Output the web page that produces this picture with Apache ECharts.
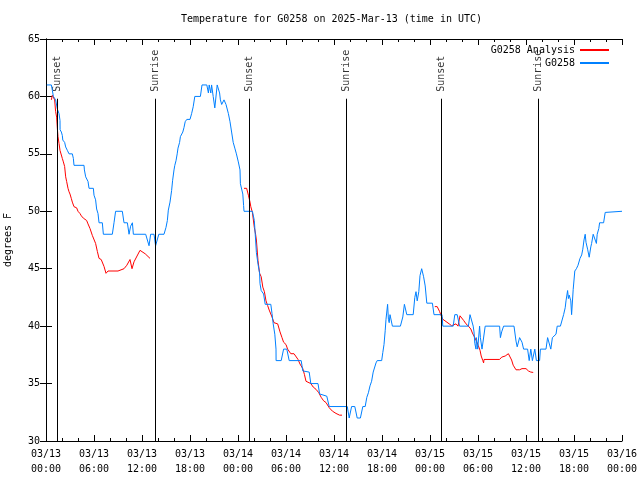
<!DOCTYPE html>
<html><head><meta charset="utf-8">
<script src="https://cdn.jsdelivr.net/npm/echarts@6/dist/echarts.min.js"></script>
<style>html,body{margin:0;padding:0;background:#fff}#c{width:640px;height:480px}</style>
</head><body><div id="c"></div>
<script>
// hours since 2025-03-13 00:00 UTC
const tickLabels = ['03/13\n00:00','03/13\n06:00','03/13\n12:00','03/13\n18:00','03/14\n00:00','03/14\n06:00','03/14\n12:00','03/14\n18:00','03/15\n00:00','03/15\n06:00','03/15\n12:00','03/15\n18:00','03/16\n00:00'];
const sunsetHours = [1.41, 25.42, 49.44];
const sunriseHours = [13.62, 37.58, 61.54];
const obs = [[0.1,61],[0.67,61],[0.8,60.5],[0.92,60],[1.2,59.7],[1.42,58.9],[1.63,58.5],[1.75,57.9],[1.76,57.1],[1.92,56.9],[2.04,56.6],[2.1,56.2],[2.33,56],[2.46,55.6],[2.67,55.3],[2.88,55],[3.29,55],[3.42,54.6],[3.5,54],[4.75,54],[4.8,53.6],[4.96,53],[5.17,53],[5.25,52.6],[5.38,52],[5.92,52],[6.0,51.4],[6.2,51],[6.33,50.2],[6.5,49.8],[6.63,49],[7.04,49],[7.17,48],[8.29,48],[8.5,49],[8.7,50],[9.54,50],[9.75,49],[10.17,49],[10.38,48],[10.58,48.7],[10.8,49],[10.92,48],[12.46,48],[12.88,47],[13.08,48],[13.5,48],[13.7,47],[14.1,48],[14.75,48],[15.0,48.6],[15.17,49.2],[15.29,50.1],[15.5,50.8],[15.7,51.8],[15.83,52.7],[16.0,53.6],[16.1,54],[16.25,54.4],[16.4,55],[16.5,55.5],[16.7,56],[16.8,56.5],[17.1,56.9],[17.25,57.3],[17.4,57.8],[17.6,58],[18.0,58],[18.2,58.5],[18.4,59.1],[18.6,60],[19.3,60],[19.5,61],[20.1,61],[20.3,60.3],[20.4,61],[20.6,60.3],[20.7,61],[20.9,60],[21.1,59],[21.4,61],[21.7,60.3],[21.8,59.7],[21.96,59.3],[22.25,59.7],[22.5,59.3],[22.8,58.5],[23.0,57.8],[23.2,56.9],[23.4,56],[23.6,55.5],[23.8,55],[24.04,54.3],[24.25,53.6],[24.3,52.4],[24.6,51.5],[24.7,50.5],[24.75,50],[25.8,50],[26.04,49.2],[26.2,47.5],[26.3,46.4],[26.5,45.4],[26.7,44.6],[26.75,43.7],[26.9,43.1],[27.2,42.8],[27.4,41.9],[28.1,41.9],[28.25,41.1],[28.4,40.2],[28.6,39.3],[28.75,38],[28.76,37],[29.4,37],[29.7,38],[30.1,38],[30.4,37],[31.9,37],[32.1,36.1],[32.3,36],[32.9,36],[33.1,35],[34.0,35],[34.2,34.1],[35.1,33.9],[35.4,33],[37.66,33],[37.9,32],[38.2,33],[38.6,33],[38.9,32],[39.3,32],[39.6,33],[39.9,33],[40.1,33.8],[40.3,34.2],[40.5,34.8],[40.7,35.2],[40.9,36],[41.25,36.8],[41.4,37],[41.96,37],[42.1,37.7],[42.25,38.4],[42.4,39.6],[42.5,40.6],[42.7,41.9],[42.8,40.6],[42.9,40.3],[43.0,41],[43.2,41],[43.3,40],[44.3,40],[44.6,40.8],[44.8,41.9],[45.1,41],[45.9,41],[46.1,42.5],[46.25,43],[46.4,42.2],[46.6,43],[46.75,44.4],[46.96,45],[47.2,44.3],[47.4,43.5],[47.6,42],[48.3,42],[48.5,41],[49.5,41],[49.6,40],[50.9,40],[51.1,41],[51.4,41],[51.7,40],[52.8,40],[53.0,41],[53.2,41],[53.4,40],[53.5,39.5],[53.6,38.5],[53.75,38],[53.8,39],[53.96,38],[54.2,40],[54.3,39],[54.5,38],[54.7,38],[54.9,40],[56.7,40],[56.8,39],[56.96,39.5],[57.2,40],[58.5,40],[58.75,38.7],[58.9,38.2],[59.2,39],[59.5,38.6],[59.7,38],[60.2,38],[60.4,37],[60.6,38],[60.8,37],[61.1,38],[61.3,37],[61.7,37],[61.8,38],[62.5,38],[62.7,39],[62.9,39],[63.1,38],[63.3,39],[63.75,39.3],[63.9,40],[64.3,40],[64.7,41],[64.9,41.6],[65.0,42.2],[65.2,43.1],[65.3,42.4],[65.4,42.7],[65.6,42.2],[65.7,41],[65.9,43.2],[66.1,44.8],[66.3,45],[66.5,45.3],[66.75,45.9],[66.96,46.2],[67.1,46.7],[67.25,47.5],[67.4,48],[67.5,47.3],[67.7,46.7],[67.9,46],[68.1,46.9],[68.2,47.2],[68.4,48],[68.6,48],[68.8,47.2],[68.9,48],[69.1,48.5],[69.2,49],[69.7,49],[69.9,49.9],[70.1,50],[72,50]];
const anaSeg1 = [[0.67,59.7],[0.79,60.1],[1.0,60.1],[1.08,59.7],[1.2,58.7],[1.33,58.2],[1.42,57.2],[1.5,56.5],[1.63,55.9],[1.75,55.3],[1.92,55.2],[2.04,54.6],[2.17,54.3],[2.33,53.9],[2.46,53],[2.58,52.6],[2.75,52],[2.88,51.7],[3.0,51.5],[3.17,51.1],[3.29,50.8],[3.5,50.4],[3.83,50.3],[4.0,50],[4.25,49.8],[4.42,49.6],[4.67,49.4],[5.08,49.2],[5.25,48.9],[5.5,48.5],[5.79,47.9],[6.0,47.8],[6.2,47.2],[6.42,46.5],[6.63,45.9],[6.9,45.8],[7.25,45.2],[7.5,44.6],[7.75,44.8],[9.0,44.8],[9.75,45],[10.1,45.3],[10.5,45.8],[10.75,45.0],[11.0,45.6],[11.75,46.6],[12.4,46.3],[13.0,45.9]];
const anaSeg2 = [[24.75,52],[25.08,52],[25.3,51.4],[25.5,50.8],[25.6,50.4],[25.8,49.9],[26.04,48.6],[26.2,48.0],[26.3,47.5],[26.5,45.7],[26.7,44.6],[26.9,44.3],[27.1,43.4],[27.3,43],[27.5,42.2],[27.7,41.8],[27.9,41.4],[28.25,40.8],[28.5,40.3],[28.96,40.2],[29.25,39.5],[29.5,39],[29.7,38.6],[30,38.4],[30.2,38],[30.6,37.6],[31.0,37.6],[31.5,37.1],[31.75,36.7],[32.1,36.3],[32.3,35.8],[32.5,35.2],[32.7,35.1],[33.1,35],[33.4,34.7],[33.75,34.5],[34.1,34.2],[34.4,33.8],[34.7,33.5],[35,33.35],[35.4,32.9],[35.8,32.6],[36.25,32.4],[36.7,32.25],[37,32.25]];
const anaSeg3 = [[48.6,41.7],[48.9,41.7],[49.2,41.27],[49.4,40.9],[49.6,40.6],[50.0,40.4],[50.4,40.2],[50.7,40.04],[50.9,40.2],[51.25,40.2],[51.5,40],[51.75,40.9],[52.2,40.5],[52.5,40.2],[52.8,40],[53.1,39.75],[53.3,39.4],[53.6,39],[53.8,38.7],[54.04,38.3],[54.25,37.9],[54.4,37.4],[54.6,37],[54.7,36.8],[54.75,37.1],[56.7,37.1],[56.96,37.3],[57.4,37.4],[57.8,37.6],[58,37.5],[58.2,37.05],[58.4,36.6],[58.75,36.2],[59.2,36.2],[59.5,36.3],[59.75,36.35],[60,36.3],[60.3,36.1],[60.6,36.0],[60.9,35.97]];
const lineTop = 59.8, labelBase = 60.4;

const FONT = 'DejaVu Sans Mono';
const ana = anaSeg1.concat([[18, null]], anaSeg2, [[43, null]], anaSeg3);
const events = [];
sunsetHours.forEach(h => events.push([h, labelBase, 'Sunset']));
sunriseHours.forEach(h => events.push([h, labelBase, 'Sunrise']));
const eventLines = events.map(e => [{coord: [e[0], 30]}, {coord: [e[0], lineTop]}]);

const axisCommon = {
  type: 'value', min: 0, max: 72, interval: 6,
  axisLine: {show: true, lineStyle: {color: '#000', width: 1}},
  axisTick: {show: true, inside: true, length: 6, lineStyle: {color: '#000'}},
  minorTick: {show: true, splitNumber: 3, length: 3, lineStyle: {color: '#000'}},
  splitLine: {show: false}
};
const yCommon = {
  type: 'value', min: 30, max: 65, interval: 5,
  axisLine: {show: true, lineStyle: {color: '#000', width: 1}},
  axisTick: {show: true, inside: true, length: 6, lineStyle: {color: '#000'}},
  splitLine: {show: false}
};

const chart = echarts.init(document.getElementById('c'), null, {renderer: 'canvas'});
chart.setOption({
  animation: false,
  backgroundColor: '#fff',
  title: {text: 'Temperature for G0258 on 2025-Mar-13 (time in UTC)', left: 181, top: 14, padding: 0,
    textStyle: {fontFamily: FONT, fontSize: 10, fontWeight: 'normal', color: '#000'}},
  legend: {
    data: ['G0258 Analysis', 'G0258'], orient: 'vertical', align: 'right', right: 30, top: 44,
    padding: 0, itemGap: 1, itemWidth: 29, itemHeight: 12,
    itemStyle: {opacity: 0},
    textStyle: {fontFamily: FONT, fontSize: 10, color: '#000', lineHeight: 12}
  },
  grid: {left: 46, right: 18, top: 39, bottom: 39, containLabel: false, outerBoundsMode: 'none'},
  xAxis: [
    Object.assign({}, axisCommon, {position: 'bottom',
      axisLabel: {show: true, margin: 6, fontFamily: FONT, fontSize: 10, color: '#000', lineHeight: 15,
        formatter: v => tickLabels[Math.round(v / 6)]}}),
    Object.assign({}, axisCommon, {position: 'top', axisLabel: {show: false}})
  ],
  yAxis: [
    Object.assign({}, yCommon, {position: 'left', name: 'degrees F', nameLocation: 'middle', nameGap: 33,
      nameTextStyle: {fontFamily: FONT, fontSize: 10, color: '#000'},
      axisLabel: {show: true, margin: 6, fontFamily: FONT, fontSize: 10, color: '#000'}}),
    Object.assign({}, yCommon, {position: 'right', axisLabel: {show: false}})
  ],
  series: [
    {name: 'G0258 Analysis', type: 'line', data: ana, symbol: 'none', connectNulls: false,
      lineStyle: {color: '#ff0000', width: 1}, itemStyle: {color: '#ff0000'}},
    {name: 'G0258', type: 'line', data: obs, symbol: 'none',
      lineStyle: {color: '#0080ff', width: 1}, itemStyle: {color: '#0080ff'}},
    {name: 'events', type: 'scatter', data: events, symbolSize: 0, silent: true,
      label: {show: true, formatter: p => p.data[2], rotate: 90, position: [0, 0], align: 'left', verticalAlign: 'middle',
        fontFamily: FONT, fontSize: 10, color: '#000'},
      markLine: {silent: true, symbol: 'none', label: {show: false}, animation: false,
        lineStyle: {color: '#000', width: 1, type: 'solid'}, emphasis: {disabled: true}, data: eventLines}}
  ]
});
</script></body></html>
